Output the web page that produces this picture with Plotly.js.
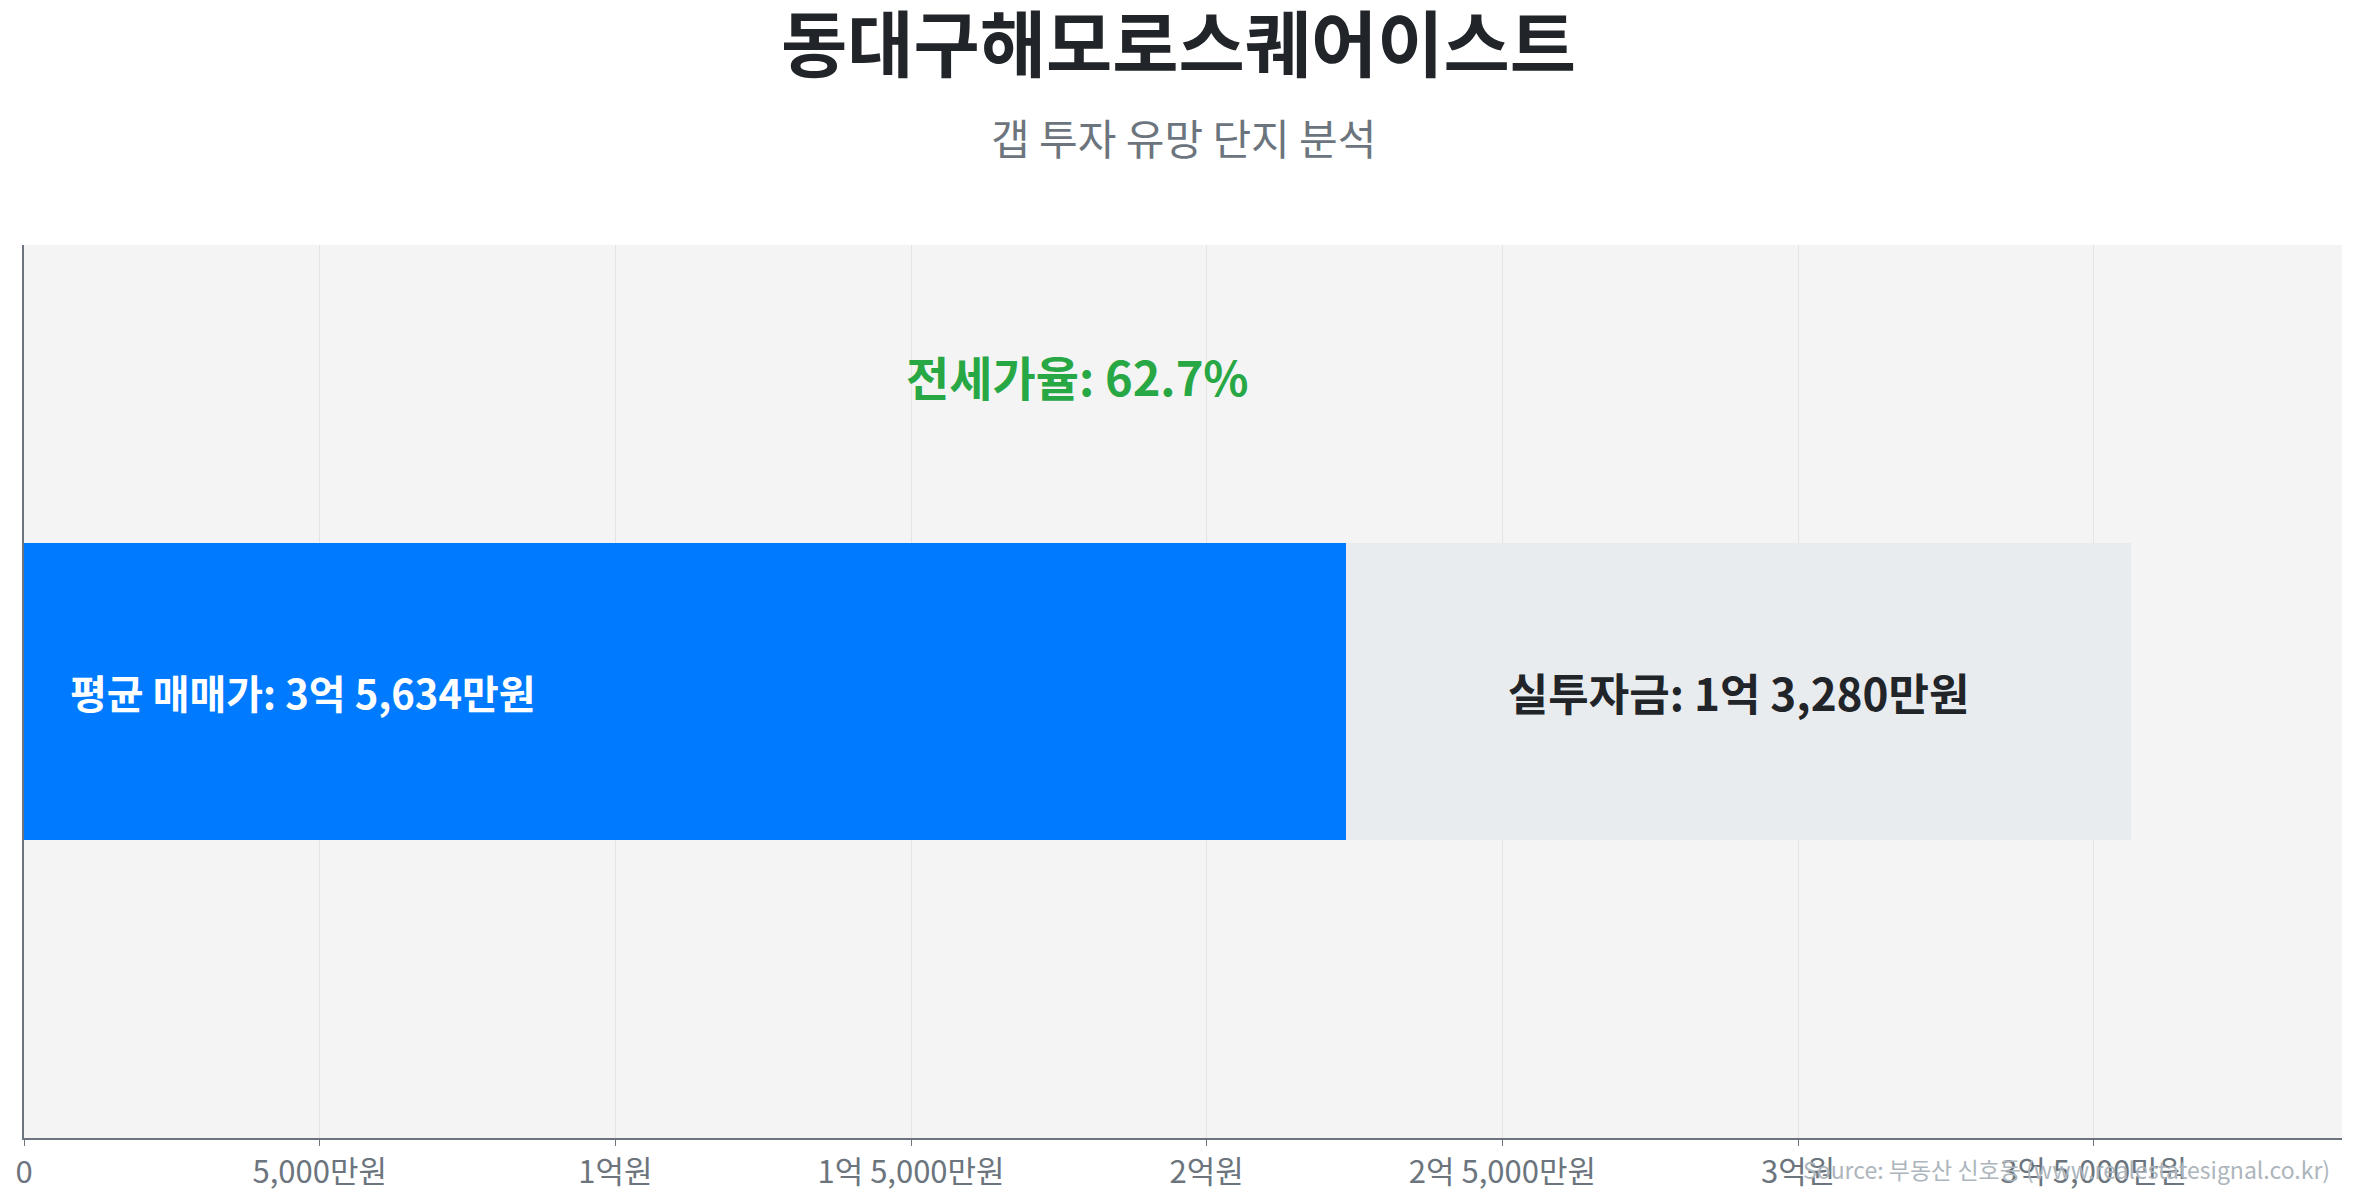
<!DOCTYPE html>
<html>
<head>
<meta charset="utf-8">
<script src="https://cdn.plot.ly/plotly-3.0.1.min.js"></script>
<style>
  html, body { margin: 0; padding: 0; background: #fff; }
  #gap { width: 2357px; height: 1200px; }
</style>
</head>
<body>
<div id="gap"></div>
<script>
// values in 만원
const complexName = '동대구해모로스퀘어이스트';
const subtitleText = '갭 투자 유망 단지 분석';
const salePrice = [35634];   // 평균 매매가
const jeonsePrice = [22354]; // 전세가
const cashNeeded = [13280];  // 실투자금
const tickVals = [0, 5000, 10000, 15000, 20000, 25000, 30000, 35000];
const tickLabels = ['0', '5,000만원', '1억원', '1억 5,000만원', '2억원', '2억 5,000만원', '3억원', '3억 5,000만원'];

const FONT = '"Noto Sans CJK KR", "Noto Sans", sans-serif';

function toWon(v) {
    var eok = Math.floor(v / 10000);
    var man = v % 10000;
    var s = '';
    if (eok > 0) s += eok + '억';
    if (man > 0) s += (s ? ' ' : '') + man.toLocaleString('en-US') + '만';
    return s + '원';
}

const ratio = (jeonsePrice[0] / salePrice[0] * 100).toFixed(1);

var data = [
    {
        type: 'bar',
        orientation: 'h',
        x: jeonsePrice,
        y: [0],
        width: 1,
        marker: { color: '#007bff' },
        hoverinfo: 'skip',
        showlegend: false
    },
    {
        type: 'bar',
        orientation: 'h',
        x: cashNeeded,
        y: [0],
        width: 1,
        marker: { color: '#e9ecef' },
        text: ['<b>실투자금: ' + toWon(cashNeeded[0]) + '</b>'],
        textposition: 'inside',
        insidetextanchor: 'middle',
        textfont: { family: FONT, size: 44, color: '#212529' },
        hoverinfo: 'skip',
        showlegend: false
    }
];

var layout = {
    width: 2357,
    height: 1200,
    barmode: 'stack',
    paper_bgcolor: '#ffffff',
    plot_bgcolor: '#f4f4f4',
    font: { family: FONT, color: '#6c757d' },
    margin: { l: 24, r: 15, t: 245, b: 62 },
    title: {
        text: '<b>' + complexName + '</b>',
        font: { family: FONT, size: 72, color: '#212529' },
        x: 0.5,
        xanchor: 'center',
        yref: 'container',
        y: 0.962,
        yanchor: 'middle'
    },
    xaxis: {
        range: [0, salePrice[0] * 1.1],
        tickvals: tickVals,
        ticktext: tickLabels,
        tickfont: { family: FONT, size: 31, color: '#6c757d' },
        ticks: 'outside',
        ticklen: 6,
        tickcolor: '#6c757d',
        showgrid: true,
        gridcolor: '#e4e4e4',
        zeroline: false,
        showline: true,
        linecolor: '#6c757d',
        linewidth: 2,
        fixedrange: true
    },
    yaxis: {
        range: [-1.5, 1.5],
        showticklabels: false,
        showgrid: false,
        zeroline: false,
        showline: true,
        linecolor: '#6c757d',
        linewidth: 2,
        fixedrange: true
    },
    annotations: [
        {
            text: subtitleText,
            xref: 'paper', yref: 'paper',
            x: 0.5, y: 1.122,
            xanchor: 'center', yanchor: 'middle',
            showarrow: false,
            font: { family: FONT, size: 42, color: '#6c757d' }
        },
        {
            text: '<b>평균 매매가: ' + toWon(salePrice[0]) + '</b>',
            xref: 'x', yref: 'y',
            x: 0, y: 0,
            xshift: 44,
            xanchor: 'left', yanchor: 'middle',
            showarrow: false,
            font: { family: FONT, size: 40, color: '#ffffff' }
        },
        {
            text: '<b>전세가율: ' + ratio + '%</b>',
            xref: 'x', yref: 'y',
            x: salePrice[0] / 2, y: 1.06,
            xanchor: 'center', yanchor: 'middle',
            showarrow: false,
            font: { family: FONT, size: 47, color: '#28a745' }
        },
        {
            text: 'Source: 부동산 신호등 (www.realestatesignal.co.kr)',
            xref: 'paper', yref: 'paper',
            x: 1, y: -0.035,
            xshift: -10,
            xanchor: 'right', yanchor: 'middle',
            showarrow: false,
            font: { family: FONT, size: 23, color: '#adb5bd' }
        }
    ]
};

Plotly.newPlot('gap', data, layout, { displayModeBar: false, staticPlot: true });
</script>
</body>
</html>
